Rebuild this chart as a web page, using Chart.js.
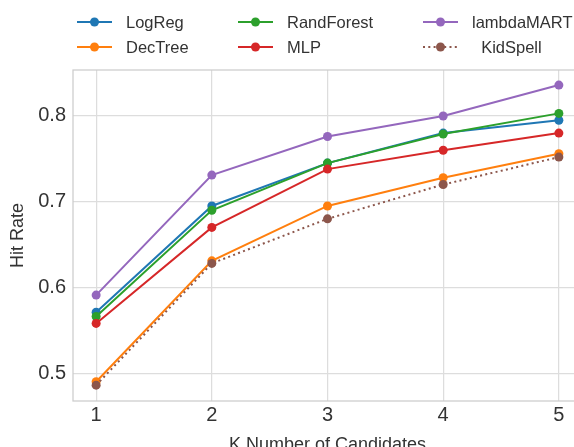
<!DOCTYPE html>
<html>
<head>
<meta charset="utf-8">
<script src="https://cdn.jsdelivr.net/npm/chart.js@4"></script>
<style>
  html, body { margin: 0; padding: 0; background: #fff; overflow: hidden; }
</style>
</head>
<body>
<canvas id="hitChart" width="600" height="470"></canvas>
<script>
// values
var kValues = [1, 2, 3, 4, 5];
var xTicks = [1, 2, 3, 4, 5];
var yTicks = [0.5, 0.6, 0.7, 0.8];

var seriesNames = ['LogReg', 'DecTree', 'RandForest', 'MLP', 'lambdaMART', 'KidSpell'];
var logReg     = [0.571, 0.695, 0.745, 0.780, 0.795];
var decTree    = [0.490, 0.631, 0.695, 0.728, 0.756];
var randForest = [0.566, 0.690, 0.745, 0.779, 0.803];
var mlp        = [0.558, 0.670, 0.738, 0.760, 0.780];
var lambdaMart = [0.591, 0.731, 0.776, 0.800, 0.836];
var kidSpell   = [0.486, 0.628, 0.680, 0.720, 0.752];

var seriesValues = [logReg, decTree, randForest, mlp, lambdaMart, kidSpell];
var seriesColors = ['#1f77b4', '#ff7f0e', '#2ca02c', '#d62728', '#9467bd', '#8c564b'];
var seriesDash = [[], [], [], [], [], [2, 3.3]];

var FONT = "'Liberation Sans', Arial, sans-serif";
var TEXT = '#333333';

var datasets = seriesNames.map(function(name, i) {
  return {
    label: name,
    data: kValues.map(function(k, j) { return {x: k, y: seriesValues[i][j]}; }),
    borderColor: seriesColors[i],
    backgroundColor: seriesColors[i],
    borderWidth: 2,
    borderDash: seriesDash[i],
    pointRadius: 4.5,
    pointBorderWidth: 0,
    pointBackgroundColor: seriesColors[i],
    tension: 0,
    order: seriesNames.length - i
  };
});

// box around plot area
var framePlugin = {
  id: 'frame',
  afterDraw: function(chart) {
    var a = chart.chartArea, ctx = chart.ctx;
    ctx.save();
    ctx.strokeStyle = '#cccccc';
    ctx.lineWidth = 1.25;
    ctx.strokeRect(a.left, a.top, a.right - a.left, a.bottom - a.top);
    ctx.restore();
  }
};

// matplotlib-like legend, 3 columns filled top to bottom
var legendCols = [77, 238, 423];
var legendRows = [22, 47];
var legendPlugin = {
  id: 'gridLegend',
  afterDraw: function(chart) {
    var ctx = chart.ctx;
    ctx.save();
    chart.data.datasets.forEach(function(ds, i) {
      var x0 = legendCols[Math.floor(i / 2)];
      var y = legendRows[i % 2];
      ctx.strokeStyle = ds.borderColor;
      ctx.lineWidth = 2;
      ctx.setLineDash(ds.borderDash);
      ctx.beginPath();
      ctx.moveTo(x0, y);
      ctx.lineTo(x0 + 35, y);
      ctx.stroke();
      ctx.setLineDash([]);
      ctx.fillStyle = ds.borderColor;
      ctx.beginPath();
      ctx.arc(x0 + 17.5, y, 4.5, 0, Math.PI * 2);
      ctx.fill();
      ctx.fillStyle = TEXT;
      ctx.font = '16.5px ' + FONT;
      ctx.textBaseline = 'middle';
      ctx.textAlign = 'left';
      var label = ds.label === 'KidSpell' ? '  KidSpell' : ds.label;
      ctx.fillText(label, x0 + 49, y + 1);
    });
    ctx.restore();
  }
};

var ctx = document.getElementById('hitChart');
new Chart(ctx, {
  type: 'line',
  data: { datasets: datasets },
  options: {
    responsive: false,
    animation: false,
    devicePixelRatio: 1,
    layout: { padding: { top: 70, left: 7, right: 18, bottom: 14 } },
    plugins: { legend: { display: false }, tooltip: { enabled: false } },
    scales: {
      x: {
        type: 'linear',
        min: 0.8,
        max: 5.2,
        afterFit: function(scale) { scale.height = 55; },
        afterBuildTicks: function(scale) {
          scale.ticks = xTicks.map(function(v) { return {value: v}; });
        },
        grid: { color: '#dddddd', lineWidth: 1.25, drawTicks: false },
        border: { display: false },
        ticks: {
          padding: 2,
          color: TEXT,
          font: { family: FONT, size: 20 },
          callback: function(v) { return String(v); }
        },
        title: {
          display: true,
          text: 'K Number of Candidates',
          color: TEXT,
          font: { family: FONT, size: 18 },
          padding: 0
        }
      },
      y: {
        type: 'linear',
        min: 0.4675,
        max: 0.8536,
        afterFit: function(scale) { scale.width = 66; },
        afterBuildTicks: function(scale) {
          scale.ticks = yTicks.map(function(v) { return {value: v}; });
        },
        grid: { color: '#dddddd', lineWidth: 1.25, drawTicks: false },
        border: { display: false },
        ticks: {
          padding: 7,
          color: TEXT,
          font: { family: FONT, size: 20 },
          callback: function(v) { return v.toFixed(1); }
        },
        title: {
          display: true,
          text: 'Hit Rate',
          color: TEXT,
          font: { family: FONT, size: 18 },
          padding: 0
        }
      }
    }
  },
  plugins: [framePlugin, legendPlugin]
});
</script>
</body>
</html>
